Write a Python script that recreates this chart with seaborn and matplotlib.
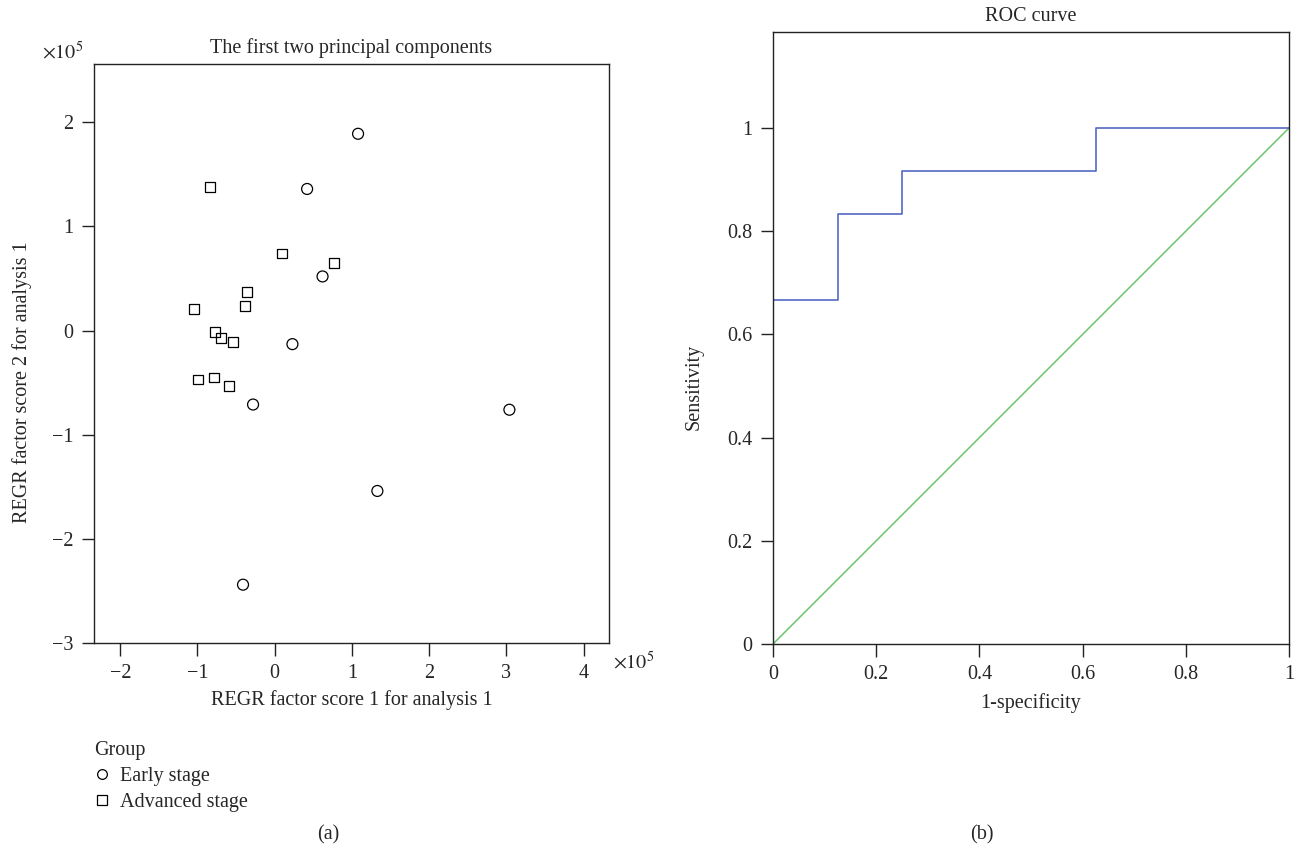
import pandas as pd
import seaborn as sns
import matplotlib.pyplot as plt
from matplotlib.lines import Line2D
from matplotlib.ticker import FuncFormatter

sns.set_style("ticks")
plt.rcParams["font.family"] = ["Liberation Serif", "DejaVu Serif"]
plt.rcParams["mathtext.fontset"] = "stix"
plt.rcParams["font.size"] = 14.5
plt.rcParams["axes.edgecolor"] = "#222222"
plt.rcParams["axes.linewidth"] = 1.0

SCALE = 1e5
FS = 14.5

# (a) REGR factor scores, in units of 1e5
early_x = [1.08, 0.42, 0.62, 0.23, -0.28, 3.04, 1.33, -0.41]
early_y = [1.89, 1.36, 0.52, -0.13, -0.71, -0.76, -1.54, -2.44]
adv_x = [-0.84, 0.09, 0.77, -0.36, -0.38, -1.05, -0.77, -0.70, -0.54, -0.99, -0.79, -0.59]
adv_y = [1.38, 0.74, 0.65, 0.37, 0.24, 0.21, -0.01, -0.07, -0.11, -0.47, -0.45, -0.53]
groups = ["Early stage", "Advanced stage"]
score_ticks_x = [-2, -1, 0, 1, 2, 3, 4]
score_ticks_y = [-3, -2, -1, 0, 1, 2]

# (b) ROC curve
fpr = [0.0, 0.125, 0.25, 0.625, 1.0]
tpr = [0.667, 0.833, 0.917, 1.0, 1.0]
diag = [0.0, 1.0]
roc_ticks = [0, 0.2, 0.4, 0.6, 0.8, 1]

early = pd.DataFrame({"x": [v * SCALE for v in early_x], "y": [v * SCALE for v in early_y]})
adv = pd.DataFrame({"x": [v * SCALE for v in adv_x], "y": [v * SCALE for v in adv_y]})

W, H = 1294, 847
fig = plt.figure(figsize=(W / 100, H / 100), dpi=100)


def box(l, t, r, b):
    return [l / W, 1 - b / H, (r - l) / W, (b - t) / H]


def style_axes(ax):
    for s in ax.spines.values():
        s.set_visible(True)
        s.set_linewidth(1.0)
        s.set_color("#222222")
    ax.tick_params(direction="out", length=9, width=1.0, color="#222222",
                   labelsize=FS, pad=6, top=False, right=False)


# ---- panel (a)
ax1 = fig.add_axes(box(94, 64, 609, 643))
sns.scatterplot(data=early, x="x", y="y", marker="o", s=62, facecolor="none",
                edgecolor="black", linewidth=0.9, ax=ax1)
sns.scatterplot(data=adv, x="x", y="y", marker="s", s=50, facecolor="none",
                edgecolor="black", linewidth=0.9, ax=ax1)
ax1.set_xlim(-2.34 * SCALE, 4.33 * SCALE)
ax1.set_ylim(-3 * SCALE, 2.56 * SCALE)
ax1.set_xticks([t * SCALE for t in score_ticks_x])
ax1.set_yticks([t * SCALE for t in score_ticks_y])
fmt = FuncFormatter(lambda v, p: f"{v / SCALE:g}".replace("-", "\u2212"))
ax1.xaxis.set_major_formatter(fmt)
ax1.yaxis.set_major_formatter(fmt)
style_axes(ax1)
ax1.set_title("The first two principal components", fontsize=FS, pad=8)
ax1.set_xlabel("REGR factor score 1 for analysis 1", fontsize=FS)
ax1.set_ylabel("REGR factor score 2 for analysis 1", fontsize=FS)
ax1.xaxis.set_label_coords(0.5, -0.081)
ax1.yaxis.set_label_coords(-0.120, 0.451)
fig.text(83 / W, 1 - 53 / H, r"$\times10^{5}$", ha="right", va="center", fontsize=FS)
fig.text(613 / W, 1 - 663 / H, r"$\times10^{5}$", ha="left", va="center", fontsize=FS)

handles = [
    Line2D([], [], marker="o", ls="none", mfc="none", mec="black", ms=7, mew=0.9),
    Line2D([], [], marker="s", ls="none", mfc="none", mec="black", ms=6.5, mew=0.9),
]
ax1.legend(handles, groups, title="Group", loc="upper left",
           bbox_to_anchor=(84 / W, 1 - 731 / H), bbox_transform=fig.transFigure,
           frameon=False, alignment="left", borderpad=0, handlelength=0.8,
           handletextpad=0.5, labelspacing=0.35, fontsize=FS, title_fontsize=FS)
fig.text(328 / W, 1 - 835 / H, "(a)", ha="center", va="center", fontsize=FS)

# ---- panel (b)
ax2 = fig.add_axes(box(773, 32, 1289, 644))
sns.lineplot(x=diag, y=diag, color="#6cc46c", linewidth=1.1, ax=ax2)
sns.lineplot(x=fpr, y=tpr, drawstyle="steps-post", color="#5468c4", linewidth=1.2, ax=ax2)
ax2.set_xlim(0, 1)
ax2.set_ylim(0, 1.186)
ax2.set_xticks(roc_ticks)
ax2.set_yticks(roc_ticks)
fmt2 = FuncFormatter(lambda v, p: f"{v:g}")
ax2.xaxis.set_major_formatter(fmt2)
ax2.yaxis.set_major_formatter(fmt2)
style_axes(ax2)
ax2.set_title("ROC curve", fontsize=FS, pad=8)
ax2.set_xlabel("1-specificity", fontsize=FS)
ax2.set_ylabel("Sensitivity", fontsize=FS)
ax2.xaxis.set_label_coords(0.5, -0.080)
ax2.yaxis.set_label_coords(-0.135, 0.42)
fig.text(982 / W, 1 - 835 / H, "(b)", ha="center", va="center", fontsize=FS)

fig.savefig("out.png", dpi=100)
